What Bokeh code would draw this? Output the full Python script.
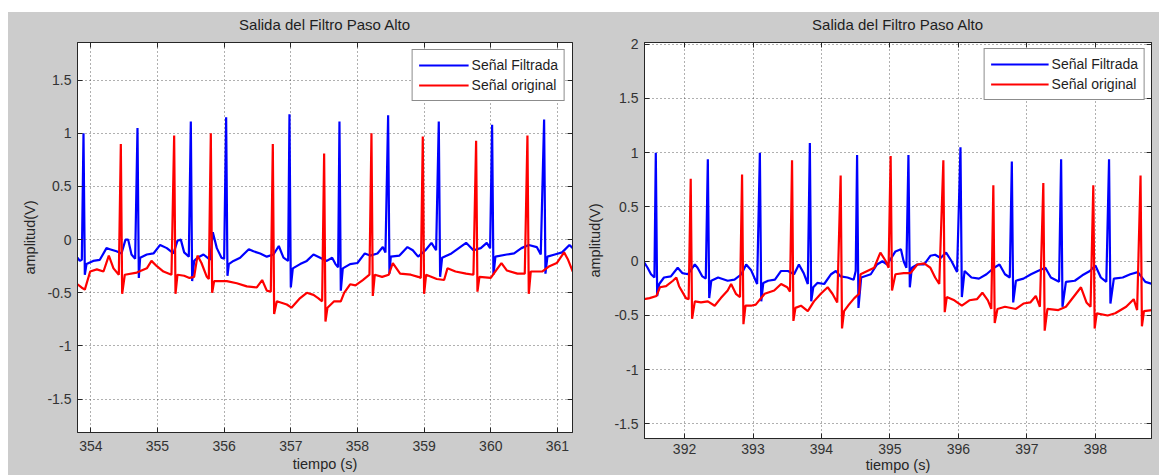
from bokeh.plotting import figure
from bokeh.models import (Range1d, FixedTicker, CustomJSTickFormatter, Legend,
                          LegendItem, Spacer, ColumnDataSource, LinearAxis)
from bokeh.layouts import row, column
from bokeh.embed import file_html
from bokeh.resources import INLINE

# ---------------- texts & ticks ----------------
TITLE = "Salida del Filtro Paso Alto"
XLABEL = "tiempo (s)"
YLABEL = "amplitud(V)"
LABEL_FILT = "Señal Filtrada"
LABEL_ORIG = "Señal original"

L_XTICKS = [354, 355, 356, 357, 358, 359, 360, 361]
L_YTICKS = [-1.5, -1, -0.5, 0, 0.5, 1, 1.5]
R_XTICKS = [392, 393, 394, 395, 396, 397, 398]
R_YTICKS = [-1.5, -1, -0.5, 0, 0.5, 1, 1.5, 2]

# ---------------- left panel data ----------------
L_BLUE_BASE_T = [353.80, 353.835, 353.865, 353.935, 354.035, 354.135, 354.235, 354.285, 354.385, 354.46,
                 354.52, 354.56, 354.61, 354.665, 354.74, 354.84, 354.94, 355.04, 355.14, 355.24,
                 355.30, 355.35, 355.40, 355.47, 355.55, 355.60, 355.69, 355.79, 355.83, 355.89,
                 355.96, 356.00, 356.07, 356.14, 356.24, 356.37, 356.44, 356.54, 356.64, 356.74,
                 356.82, 356.89, 356.96, 357.03, 357.14, 357.24, 357.34, 357.44, 357.54, 357.62,
                 357.67, 357.71, 357.78, 357.89, 358.00, 358.11, 358.19, 358.30, 358.38, 358.42,
                 358.50, 358.63, 358.75, 358.83, 358.91, 359.02, 359.11, 359.18, 359.27, 359.41,
                 359.52, 359.63, 359.74, 359.85, 359.94, 359.99, 360.07, 360.24, 360.35, 360.46,
                 360.57, 360.69, 360.75, 360.85, 360.96, 361.07, 361.18, 361.23]
L_BLUE_BASE_V = [-0.17, -0.20, -0.19, -0.23, -0.20, -0.19, -0.08, -0.09, -0.11, -0.13,
                 0.00, 0.00, -0.14, -0.18, -0.17, -0.14, -0.13, -0.05, -0.08, -0.13,
                 -0.01, 0.00, -0.12, -0.16, -0.20, -0.17, -0.14, -0.19, 0.07, -0.08,
                 -0.17, -0.18, -0.23, -0.20, -0.17, -0.09, -0.11, -0.13, -0.16, -0.14,
                 -0.06, -0.17, -0.20, -0.27, -0.23, -0.20, -0.14, -0.17, -0.20, -0.17,
                 -0.23, -0.26, -0.27, -0.23, -0.22, -0.13, -0.15, -0.13, -0.07, -0.12,
                 -0.16, -0.15, -0.07, -0.10, -0.16, -0.10, -0.03, -0.10, -0.17, -0.13,
                 -0.08, -0.03, -0.10, -0.08, -0.03, -0.08, -0.16, -0.14, -0.13, -0.08,
                 -0.05, -0.07, -0.14, -0.16, -0.14, -0.12, -0.05, -0.08]
L_BLUE_PEAK_T = [353.89, 354.70, 355.50, 356.03, 356.98, 357.73, 358.46, 359.22, 360.02, 360.80]
L_BLUE_PEAK_V = [1.00, 1.05, 1.11, 1.15, 1.18, 1.11, 1.17, 1.11, 1.08, 1.13]
L_BLUE_DIP_T = [353.91, 354.72, 355.52, 356.05, 357.00, 357.75, 358.48, 359.24, 360.04, 360.82]
L_BLUE_DIP_V = [-0.33, -0.36, -0.39, -0.34, -0.45, -0.48, -0.32, -0.35, -0.33, -0.32]

L_RED_BASE_T = [353.80, 353.86, 353.91, 353.99, 354.09, 354.19, 354.27, 354.34, 354.42, 354.51,
                354.69, 354.84, 354.91, 354.99, 355.09, 355.21, 355.30, 355.40, 355.48, 355.55,
                355.60, 355.66, 355.74, 355.77, 355.85, 356.04, 356.19, 356.34, 356.49, 356.57,
                356.64, 356.70, 356.79, 356.94, 357.01, 357.14, 357.24, 357.34, 357.41, 357.47,
                357.55, 357.65, 357.75, 357.80, 357.89, 357.97, 358.08, 358.18, 358.26, 358.37,
                358.47, 358.53, 358.64, 358.80, 358.91, 358.95, 359.03, 359.19, 359.30, 359.35,
                359.47, 359.63, 359.74, 359.83, 360.00, 360.08, 360.16, 360.24, 360.40, 360.51,
                360.60, 360.77, 360.88, 360.99, 361.10, 361.16, 361.23]
L_RED_BASE_V = [-0.42, -0.45, -0.47, -0.30, -0.28, -0.30, -0.15, -0.27, -0.33, -0.33,
                -0.31, -0.27, -0.20, -0.25, -0.30, -0.33, -0.33, -0.34, -0.36, -0.35,
                -0.15, -0.22, -0.35, -0.37, -0.39, -0.39, -0.41, -0.44, -0.45, -0.38,
                -0.48, -0.49, -0.58, -0.61, -0.64, -0.55, -0.50, -0.52, -0.55, -0.58,
                -0.64, -0.58, -0.58, -0.50, -0.42, -0.43, -0.38, -0.33, -0.33, -0.35,
                -0.33, -0.22, -0.32, -0.33, -0.35, -0.36, -0.33, -0.37, -0.38, -0.27,
                -0.30, -0.32, -0.33, -0.35, -0.36, -0.29, -0.22, -0.29, -0.32, -0.32,
                -0.30, -0.30, -0.25, -0.22, -0.12, -0.19, -0.30]
L_RED_PEAK_T = [354.45, 355.25, 355.80, 356.73, 357.50, 358.21, 358.98, 359.78, 360.55]
L_RED_PEAK_V = [0.90, 0.98, 1.00, 0.90, 0.81, 1.00, 0.97, 0.93, 0.98]
L_RED_DIP_T = [354.47, 355.27, 355.82, 356.75, 357.52, 358.23, 359.00, 359.80, 360.57]
L_RED_DIP_V = [-0.51, -0.51, -0.50, -0.70, -0.77, -0.53, -0.51, -0.49, -0.51]

# ---------------- right panel data ----------------
R_BLUE_BASE_T = [391.40, 391.46, 391.51, 391.56, 391.63, 391.70, 391.80, 391.90, 391.97, 392.05,
                 392.15, 392.19, 392.26, 392.31, 392.39, 392.49, 392.63, 392.73, 392.83, 392.90,
                 392.97, 393.06, 393.15, 393.22, 393.32, 393.41, 393.51, 393.60, 393.67, 393.74,
                 393.80, 393.88, 393.94, 394.04, 394.14, 394.21, 394.28, 394.38, 394.47, 394.50,
                 394.58, 394.72, 394.81, 394.89, 394.96, 395.08, 395.16, 395.20, 395.24, 395.32,
                 395.40, 395.50, 395.59, 395.66, 395.74, 395.82, 395.90, 395.98, 396.09, 396.19,
                 396.30, 396.41, 396.52, 396.60, 396.68, 396.75, 396.84, 396.95, 397.06, 397.16,
                 397.27, 397.35, 397.47, 397.57, 397.70, 397.81, 397.92, 398.00, 398.08, 398.16,
                 398.27, 398.40, 398.51, 398.62, 398.73, 398.83]
R_BLUE_BASE_V = [0.00, -0.06, -0.12, -0.15, -0.21, -0.15, -0.14, -0.06, -0.11, -0.12,
                 -0.03, -0.06, -0.14, -0.16, -0.18, -0.15, -0.18, -0.17, -0.12, -0.03,
                 -0.08, -0.21, -0.20, -0.18, -0.17, -0.09, -0.09, -0.12, -0.03, -0.11,
                 -0.21, -0.24, -0.20, -0.21, -0.12, -0.09, -0.14, -0.15, -0.17, -0.09,
                 -0.15, -0.12, -0.03, 0.00, -0.03, 0.09, 0.11, 0.00, -0.06, -0.06,
                 -0.03, -0.03, 0.05, 0.06, 0.03, 0.08, 0.00, -0.10, -0.09, -0.15,
                 -0.16, -0.12, -0.06, -0.03, -0.12, -0.15, -0.18, -0.16, -0.12, -0.09,
                 -0.06, -0.15, -0.19, -0.19, -0.18, -0.13, -0.09, -0.04, -0.15, -0.19,
                 -0.16, -0.15, -0.12, -0.10, -0.19, -0.21]
R_BLUE_PEAK_T = [391.58, 392.34, 393.10, 393.83, 394.52, 395.27, 396.03, 396.78, 397.50, 398.20]
R_BLUE_PEAK_V = [1.00, 0.94, 1.00, 1.09, 0.98, 0.98, 1.05, 0.92, 0.94, 0.94]
R_BLUE_DIP_T = [391.60, 392.36, 393.12, 393.85, 394.54, 395.29, 396.05, 396.80, 397.52, 398.22]
R_BLUE_DIP_V = [-0.32, -0.34, -0.37, -0.37, -0.43, -0.24, -0.33, -0.38, -0.42, -0.39]

R_RED_BASE_T = [391.40, 391.49, 391.59, 391.64, 391.73, 391.83, 391.88, 391.92, 392.02, 392.06,
                392.15, 392.24, 392.34, 392.44, 392.53, 392.63, 392.68, 392.75, 392.81, 392.89,
                392.97, 393.04, 393.17, 393.31, 393.41, 393.50, 393.54, 393.62, 393.70, 393.80,
                393.89, 393.99, 394.09, 394.16, 394.23, 394.33, 394.40, 394.48, 394.55, 394.57,
                394.67, 394.77, 394.86, 394.94, 394.98, 395.08, 395.20, 395.30, 395.40, 395.50,
                395.59, 395.66, 395.72, 395.83, 395.94, 396.05, 396.16, 396.27, 396.35, 396.43,
                396.48, 396.57, 396.68, 396.84, 396.95, 397.05, 397.13, 397.19, 397.30, 397.46,
                397.57, 397.68, 397.79, 397.87, 397.93, 398.02, 398.18, 398.29, 398.45, 398.56,
                398.61, 398.71, 398.83]
R_RED_BASE_V = [-0.35, -0.34, -0.32, -0.24, -0.23, -0.18, -0.15, -0.23, -0.34, -0.35,
                -0.37, -0.38, -0.37, -0.41, -0.34, -0.27, -0.21, -0.30, -0.33, -0.41,
                -0.41, -0.40, -0.30, -0.27, -0.21, -0.24, -0.28, -0.43, -0.41, -0.46,
                -0.37, -0.30, -0.24, -0.30, -0.38, -0.46, -0.40, -0.34, -0.30, -0.12,
                -0.09, -0.06, 0.08, 0.00, -0.06, -0.12, -0.11, -0.11, -0.03, -0.02,
                -0.06, -0.15, -0.21, -0.33, -0.36, -0.41, -0.36, -0.35, -0.29, -0.36,
                -0.44, -0.44, -0.42, -0.44, -0.39, -0.38, -0.32, -0.42, -0.44, -0.45,
                -0.42, -0.33, -0.24, -0.38, -0.42, -0.48, -0.50, -0.48, -0.42, -0.35,
                -0.45, -0.46, -0.45]
R_RED_PEAK_T = [392.09, 392.84, 393.57, 394.28, 395.01, 395.78, 396.51, 397.24, 397.97, 398.66]
R_RED_PEAK_V = [0.76, 0.80, 0.93, 0.79, 0.97, 0.93, 0.70, 0.72, 0.70, 0.79]
R_RED_DIP_T = [392.11, 392.86, 393.59, 394.30, 395.03, 395.80, 396.53, 397.26, 397.99, 398.68]
R_RED_DIP_V = [-0.53, -0.58, -0.55, -0.62, -0.27, -0.47, -0.57, -0.64, -0.62, -0.60]

# ---------------- styling ----------------
FONT = "Liberation Sans"
FIG_BG = "#cccccc"
AX_COLOR = "#262626"
BLUE = "#0000ff"
RED = "#ff0000"


def make_source(bt, bv, pt, pv, dt, dv):
    pts = (list(zip(bt, bv, strict=True)) + list(zip(pt, pv, strict=True))
           + list(zip(dt, dv, strict=True)))
    pts.sort(key=lambda q: q[0])
    return ColumnDataSource(dict(t=[q[0] for q in pts], v=[q[1] for q in pts]))


def style_axis(ax):
    ax.axis_line_color = AX_COLOR
    ax.major_tick_line_color = AX_COLOR
    ax.major_tick_in = 5
    ax.major_tick_out = 0
    ax.minor_tick_line_color = None
    ax.major_label_text_font = FONT
    ax.major_label_text_font_size = "14px"
    ax.major_label_text_color = "#333333"
    ax.axis_label_text_font = FONT
    ax.axis_label_text_font_size = "14.5px"
    ax.axis_label_text_font_style = "normal"
    ax.axis_label_text_color = "#262626"


def panel(width, height, xr, yr, xticks, yticks, borders, title_gap,
          ylab_standoff, xtick_standoff, xlab_standoff, blue_src, red_src,
          leg_margin, leg_glyph_w):
    bl, br, bt, bb = borders
    p = figure(width=width, height=height, x_range=Range1d(*xr), y_range=Range1d(*yr),
               output_backend="svg", toolbar_location=None,
               min_border_left=bl, min_border_right=br, min_border_top=bt,
               min_border_bottom=bb)
    p.border_fill_color = FIG_BG
    p.background_fill_color = "white"
    p.outline_line_color = AX_COLOR
    p.outline_line_width = 1

    fmt = "return String(tick);"
    blank = "return '';"
    p.xaxis.ticker = FixedTicker(ticks=xticks)
    p.yaxis.ticker = FixedTicker(ticks=yticks)
    p.xaxis.formatter = CustomJSTickFormatter(code=fmt)
    p.yaxis.formatter = CustomJSTickFormatter(code=fmt)
    for ax in (p.xaxis, p.yaxis):
        style_axis(ax)
    p.yaxis.axis_label = YLABEL
    p.yaxis.axis_label_standoff = ylab_standoff
    p.yaxis.major_label_standoff = 6
    p.xaxis.axis_label = XLABEL
    p.xaxis.major_label_standoff = xtick_standoff
    p.xaxis.axis_label_standoff = xlab_standoff

    # top edge: mirrored inward ticks, with the plot title as its label
    top_ax = LinearAxis(ticker=FixedTicker(ticks=xticks),
                        formatter=CustomJSTickFormatter(code=blank))
    style_axis(top_ax)
    top_ax.major_label_standoff = 0
    top_ax.axis_label = TITLE
    top_ax.axis_label_text_font_size = "15px"
    top_ax.axis_label_text_color = "#1e1e1e"
    top_ax.axis_label_standoff = title_gap
    p.add_layout(top_ax, "above")

    # right edge: mirrored inward ticks
    right_ax = LinearAxis(ticker=FixedTicker(ticks=yticks),
                          formatter=CustomJSTickFormatter(code=blank))
    style_axis(right_ax)
    right_ax.major_label_standoff = 0
    p.add_layout(right_ax, "right")

    p.grid.grid_line_color = "#3a3a3a"
    p.grid.grid_line_dash = "1 3"
    p.grid.grid_line_alpha = 0.8

    rb = p.line("t", "v", source=blue_src, line_color=BLUE, line_width=2.2)
    rr = p.line("t", "v", source=red_src, line_color=RED, line_width=2.2)

    leg = Legend(items=[LegendItem(label=LABEL_FILT, renderers=[rb]),
                        LegendItem(label=LABEL_ORIG, renderers=[rr])],
                 location="top_right")
    leg.label_text_font = FONT
    leg.label_text_font_size = "14px"
    leg.label_text_color = "#1e1e1e"
    leg.glyph_width = leg_glyph_w
    leg.glyph_height = 18
    leg.label_height = 18
    leg.label_standoff = 3
    leg.padding = 6
    leg.spacing = 2
    leg.margin = leg_margin
    leg.border_line_color = "#1a1a1a"
    leg.border_line_width = 1.5
    leg.background_fill_color = "white"
    leg.background_fill_alpha = 1
    p.add_layout(leg)
    return p


left_blue = make_source(L_BLUE_BASE_T, L_BLUE_BASE_V, L_BLUE_PEAK_T, L_BLUE_PEAK_V,
                        L_BLUE_DIP_T, L_BLUE_DIP_V)
left_red = make_source(L_RED_BASE_T, L_RED_BASE_V, L_RED_PEAK_T, L_RED_PEAK_V,
                       L_RED_DIP_T, L_RED_DIP_V)
right_blue = make_source(R_BLUE_BASE_T, R_BLUE_BASE_V, R_BLUE_PEAK_T, R_BLUE_PEAK_V,
                         R_BLUE_DIP_T, R_BLUE_DIP_V)
right_red = make_source(R_RED_BASE_T, R_RED_BASE_V, R_RED_PEAK_T, R_RED_PEAK_V,
                        R_RED_DIP_T, R_RED_DIP_V)

p1 = panel(572, 463, (353.80, 361.226), (-1.814, 1.854), L_XTICKS, L_YTICKS,
           (69, 8, 30, 43), 10, 6, 8, 2, left_blue, left_red, 7, 50)
p2 = panel(579, 463, (391.415, 398.82), (-1.634, 2.016), R_XTICKS, R_YTICKS,
           (64, 8, 28, 36), 10, 8, 5, 0, right_blue, right_red, 6, 58)

panels = row(column(p1), column(p2), styles={"background-color": FIG_BG})
layout = column(Spacer(width=1159, height=12),
                row(Spacer(width=8, height=463), panels))

open("out.html", "w").write(file_html(layout, INLINE))
